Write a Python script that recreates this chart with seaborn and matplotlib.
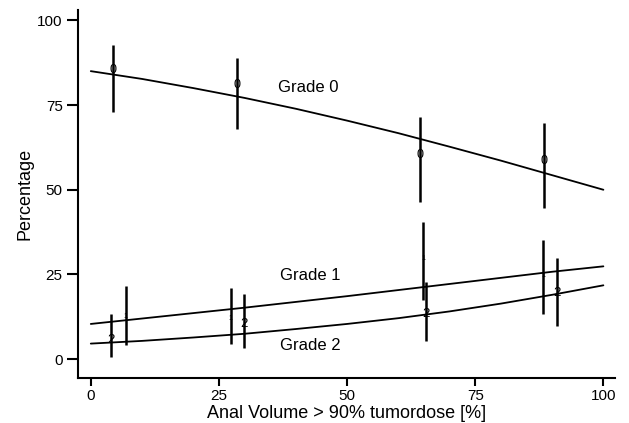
import numpy as np
import pandas as pd
import matplotlib
matplotlib.use("Agg")
import matplotlib.pyplot as plt
import seaborn as sns

# Fitted curves, read at every 10 % of anal volume
curve_x = [0, 10, 20, 30, 40, 50, 60, 70, 80, 90, 100]
grade0_curve = [85.0, 82.7, 80.0, 77.1, 73.9, 70.4, 66.7, 62.7, 58.6, 54.3, 50.0]
grade1_curve = [10.4, 12.0, 13.6, 15.2, 16.9, 18.6, 20.4, 22.2, 24.0, 25.8, 27.4]
grade2_curve = [4.6, 5.4, 6.4, 7.5, 8.9, 10.4, 12.1, 14.1, 16.4, 19.0, 21.8]

# Observed proportions with confidence intervals
grade0_x = [4.4, 28.5, 64.3, 88.5]
grade0_y = [85.3, 80.8, 60.2, 58.4]
grade0_lo = [72.9, 67.8, 46.4, 44.6]
grade0_hi = [92.6, 89.0, 71.5, 69.8]

grade1_x = [6.8, 27.3, 64.8, 88.3]
grade1_y = [12.5, 12.0, 29.6, 24.8]
grade1_lo = [4.3, 4.4, 17.6, 13.4]
grade1_hi = [21.6, 21.1, 40.5, 35.3]

grade2_x = [4.0, 29.8, 65.4, 90.9]
grade2_y = [5.8, 10.3, 13.4, 19.4]
grade2_lo = [0.7, 3.4, 5.4, 9.7]
grade2_hi = [13.3, 19.2, 22.8, 30.0]

xticks = [0, 25, 50, 75, 100]
yticks = [0, 25, 50, 75, 100]

sns.set_theme(style="ticks")
plt.rcParams["font.family"] = ["Liberation Sans", "DejaVu Sans"]
plt.rcParams["text.color"] = "black"
plt.rcParams["axes.labelcolor"] = "black"

curves = pd.DataFrame({
    "x": curve_x * 3,
    "y": grade0_curve + grade1_curve + grade2_curve,
    "grade": ["0"] * len(curve_x) + ["1"] * len(curve_x) + ["2"] * len(curve_x),
})

fig = plt.figure(figsize=(6.29, 4.23), dpi=100)
ax = fig.add_axes([0.124, 0.106, 0.854, 0.87])

sns.lineplot(data=curves, x="x", y="y", units="grade", estimator=None,
             color="black", linewidth=1.3, ax=ax)

groups = [
    ("0", grade0_x, grade0_y, grade0_lo, grade0_hi, 9),
    ("1", grade1_x, grade1_y, grade1_lo, grade1_hi, 5),
    ("2", grade2_x, grade2_y, grade2_lo, grade2_hi, 9.5),
]
for label, xs, ys, lo, hi, fs in groups:
    ax.vlines(xs, lo, hi, color="black", linewidth=1.8)
    for xv, yv in zip(xs, ys):
        ax.text(xv, yv, label, ha="center", va="center", fontsize=fs,
                color="black")

ax.text(42.4, 80.2, "Grade 0", fontsize=12, ha="center", va="center")
ax.text(42.8, 24.6, "Grade 1", fontsize=12, ha="center", va="center")
ax.text(42.8, 4.0, "Grade 2", fontsize=12, ha="center", va="center")

ax.set_xlim(-2.5, 102.3)
ax.set_ylim(-5.6, 103)
ax.set_xticks(xticks)
ax.set_yticks(yticks)
ax.tick_params(axis="x", direction="out", length=6, width=1.5, pad=2,
               labelsize=11, color="black", labelcolor="black")
ax.tick_params(axis="y", direction="out", length=8, width=1.5, pad=3,
               labelsize=11, color="black", labelcolor="black")
for side in ["left", "bottom"]:
    ax.spines[side].set_linewidth(1.5)
    ax.spines[side].set_color("black")
sns.despine(ax=ax)

ax.set_xlabel("Anal Volume > 90% tumordose [%]", fontsize=13, labelpad=1)
ax.set_ylabel("Percentage", fontsize=13, labelpad=3)

fig.savefig("out.png", dpi=100)
